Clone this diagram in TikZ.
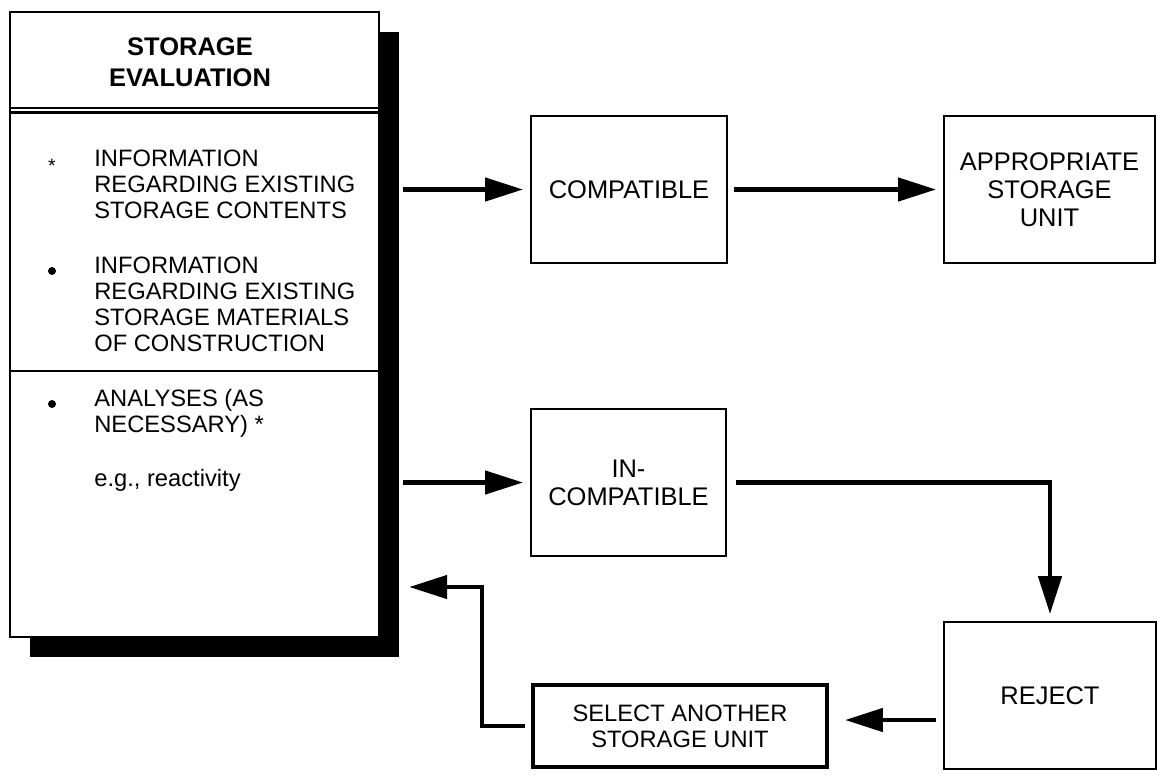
\documentclass[tikz,border=0pt]{standalone}
\usepackage{fontspec}
\setmainfont{Liberation Sans}
\usetikzlibrary{arrows.meta, positioning, shadows}

\begin{document}
\begin{tikzpicture}[x=0.02cm, y=-0.02cm,
    box/.style={draw, line width=1.1pt, rectangle, align=center, inner sep=0pt,
        font=\fontsize{14.5}{15.9}\selectfont},
    heavybox/.style={box, line width=2.3pt, font=\fontsize{13.5}{14.7}\selectfont},
    flow/.style={line width=2.6pt, -{Triangle[length=0.76cm, width=0.46cm]}},
    item/.style={anchor=base west, align=left, inner sep=0pt,
        font=\fontsize{13.5}{14.74}\selectfont},
    dot/.style={circle, fill, inner sep=0pt, minimum size=0.16cm},
    rule/.style={line width=1.1pt}
]
\useasboundingbox (0,0) rectangle (1157,775);

% Evaluation panel with its shadow
\node[draw, line width=1.4pt, fill=white, minimum width=7.38cm, minimum height=12.5cm,
    drop shadow={shadow xshift=0.4cm, shadow yshift=-0.4cm, fill=black, opacity=1}]
    (eval) at (194.5,324.5) {};
\draw[rule] (eval.west |- 0,108.3) -- (eval.east |- 0,108.3);
\draw[line width=2.1pt] (eval.west |- 0,112.5) -- (eval.east |- 0,112.5);
\draw[rule] (eval.west |- 0,371) -- (eval.east |- 0,371);

% (base of a multi-line node = its last line)
\node[anchor=base, align=center, inner sep=0pt,
    font=\fontsize{14.5}{17.6}\selectfont\bfseries] (title) at (190,86) {STORAGE\\EVALUATION};

% Panel contents
\node[anchor=base, inner sep=0pt, font=\fontsize{11}{11}\selectfont] (star) at (52,172) {*};
\node[item] (itemA) at (94,218) {INFORMATION\\REGARDING EXISTING\\STORAGE CONTENTS};
\node[dot] (dotB) at (52,271) {};
\node[item] (itemB) at (94,351) {INFORMATION\\REGARDING EXISTING\\STORAGE MATERIALS\\OF CONSTRUCTION};
\node[dot] (dotC) at (52,404) {};
\node[item] (itemC) at (94,432) {ANALYSES (AS\\NECESSARY) *};
\node[item] (eg) at (94,486) {e.g., reactivity};

% Outcome boxes
\node[box, minimum width=3.92cm, minimum height=2.94cm] (compat) at (629,189.5) {COMPATIBLE};
\node[box, minimum width=4.22cm, minimum height=2.94cm] (approp) at (1049.5,189.5) {APPROPRIATE\\STORAGE\\UNIT};
\node[box, minimum width=3.9cm, minimum height=2.94cm] (incompat) at (628.5,482.5) {IN-\\COMPATIBLE};
\node[box, minimum width=4.24cm, minimum height=2.94cm] (reject) at (1050,695.5) {REJECT};
\node[heavybox, minimum width=5.88cm, minimum height=1.64cm] (select) at (680,726) {SELECT ANOTHER\\STORAGE UNIT};

% Flow arrows
\draw[flow] ([xshift=0.46cm]eval.east |- compat.west) -- ([xshift=-0.14cm]compat.west);
\draw[flow] ([xshift=0.12cm]compat.east) -- ([xshift=-0.14cm]approp.west);
\draw[flow] ([xshift=0.46cm]eval.east |- incompat.west) -- ([xshift=-0.14cm]incompat.west);
\draw[flow] ([xshift=0.18cm]incompat.east) -| ([yshift=0.14cm]reject.north);
\draw[flow] ([xshift=-0.14cm, yshift=0.12cm]reject.west |- select.east)
    -- ([xshift=0.32cm, yshift=0.12cm]select.east);

% Loop back to the evaluation
\coordinate (turn) at (482,587);
\draw[flow] ([xshift=-0.12cm]select.west) -| (turn) -- ([xshift=0.58cm]eval.east |- turn);

\end{tikzpicture}
\end{document}
